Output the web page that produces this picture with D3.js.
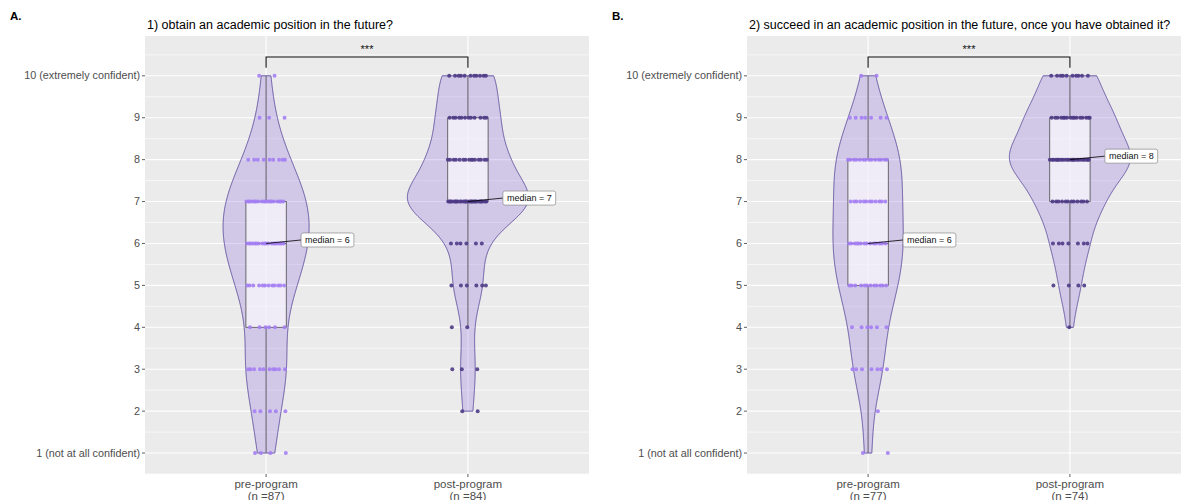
<!DOCTYPE html>
<html>
<head>
<meta charset="utf-8">
<script src="https://cdn.jsdelivr.net/npm/d3@7"></script>
<style>
body{margin:0;background:#fff;}
svg{display:block;font-family:"Liberation Sans",Arial,sans-serif;}
</style>
</head>
<body>
<svg></svg>
<script>
// confidence scores 1..10, counts of answers for each score
var scoreValues = [1,2,3,4,5,6,7,8,9,10];
var groupNames = ['pre-program','post-program'];
var yTickLabels = ['1 (not at all confident)','2','3','4','5','6','7','8','9','10 (extremely confident)'];
var countsApre  = [4,5,10,6,12,18,18,9,3,2];
var countsApost = [0,2,3,2,6,6,27,15,12,11];
var countsBpre  = [2,1,7,6,12,14,12,14,7,2];
var countsBpost = [0,0,0,1,4,7,12,24,16,10];
var sampleA = [87,84];
var sampleB = [77,74];
var panelLetters = ['A.','B.'];
var panelTitles = ['1) obtain an academic position in the future?',
    '2) succeed in an academic position in the future, once you have obtained it?'];
var signifLabels = ['***','***'];

var width = 1181, height = 500;
var svg = d3.select('svg').attr('width',width).attr('height',height);

var panels = [
    {letter:panelLetters[0], title:panelTitles[0], counts:[countsApre,countsApost], n:sampleA, sig:signifLabels[0], left:145, letterX:10},
    {letter:panelLetters[1], title:panelTitles[1], counts:[countsBpre,countsBpost], n:sampleB, sig:signifLabels[1], left:747, letterX:612}
];

var panelW = 444, panelTop = 36, panelBottom = 474;
var pointCols = ['#a47ef3','#4e3a86'];

function expand(counts){
    var out = [];
    counts.forEach(function(c,i){ for(var k=0;k<c;k++) out.push(scoreValues[i]); });
    return out;
}
function bwNrd0(x){
    var sd = d3.deviation(x);
    var iqr = d3.quantile(x,0.75) - d3.quantile(x,0.25);
    var lo = Math.min(sd, iqr/1.34);
    if(!(lo>0)) lo = sd || 1;
    return 0.9*lo*Math.pow(x.length,-0.2);
}
function kde(x, bw, lo, hi){
    var pts = [], n = x.length;
    for(var j=0;j<512;j++){
        var y = lo + (hi-lo)*j/511, s = 0;
        for(var i=0;i<n;i++){
            var u = (y-x[i])/bw;
            s += Math.exp(-0.5*u*u);
        }
        pts.push({y:y, d:s/(n*bw*Math.sqrt(2*Math.PI))});
    }
    return pts;
}

panels.forEach(function(p){
    // discrete scale: categories sit at 0.6 and 1.6 of 2.2 units
    var step = panelW/2.2;
    var cx = function(g){ return p.left + step*(0.6 + groupNames.indexOf(g)); };
    var y = d3.scaleLinear().domain([0.5,10.95]).range([panelBottom,panelTop]);

    var g = svg.append('g');
    g.append('defs').append('clipPath').attr('id','clip'+p.letter[0])
        .append('rect').attr('x',p.left).attr('y',panelTop).attr('width',panelW).attr('height',panelBottom-panelTop);

    g.append('text').text(p.letter).attr('x',p.letterX).attr('y',20)
        .style('font-size','11.5px').style('font-weight','bold').attr('fill','#000');
    g.append('text').text(p.title).attr('x',p.left+2).attr('y',29)
        .style('font-size','12.5px').attr('fill','#000');

    var plot = g.append('g').attr('clip-path','url(#clip'+p.letter[0]+')');
    plot.append('rect').attr('x',p.left).attr('y',panelTop).attr('width',panelW).attr('height',panelBottom-panelTop).attr('fill','#ebebeb');

    var minor = d3.range(0.5,11,1);
    plot.selectAll('.minor').data(minor).enter().append('line')
        .attr('x1',p.left).attr('x2',p.left+panelW)
        .attr('y1',function(d){return y(d);}).attr('y2',function(d){return y(d);})
        .attr('stroke','#fff').attr('stroke-width',0.6);
    plot.selectAll('.major').data(scoreValues).enter().append('line')
        .attr('x1',p.left).attr('x2',p.left+panelW)
        .attr('y1',function(d){return y(d);}).attr('y2',function(d){return y(d);})
        .attr('stroke','#fff').attr('stroke-width',1.1);
    plot.selectAll('.vmajor').data(groupNames).enter().append('line')
        .attr('x1',cx).attr('x2',cx).attr('y1',panelTop).attr('y2',panelBottom)
        .attr('stroke','#fff').attr('stroke-width',1.1);

    // stats per group
    var stats = p.counts.map(function(c,gi){
        var data = expand(c).sort(d3.ascending);
        var q1 = d3.quantile(data,0.25), med = d3.quantile(data,0.5), q3 = d3.quantile(data,0.75);
        var iqr = q3-q1;
        var lw = d3.min(data.filter(function(v){return v>=q1-1.5*iqr;}));
        var uw = d3.max(data.filter(function(v){return v<=q3+1.5*iqr;}));
        var dens = kde(data, bwNrd0(data), data[0], data[data.length-1]);
        return {name:groupNames[gi], data:data, q1:q1, med:med, q3:q3, lw:lw, uw:uw, dens:dens,
            maxD:d3.max(dens,function(d){return d.d;})};
    });
    var maxD = d3.max(stats,function(s){return s.maxD;});
    var vHalf = step*0.3;

    stats.forEach(function(s,gi){
        var c = cx(s.name);
        var w = d3.scaleLinear().domain([0,maxD]).range([0,vHalf]);
        var area = d3.area()
            .y(function(d){return y(d.y);})
            .x0(function(d){return c - w(d.d);})
            .x1(function(d){return c + w(d.d);});
        plot.append('path').datum(s.dens).attr('d',area)
            .attr('fill','rgba(140,108,222,0.27)').attr('stroke','#5a4a9a').attr('stroke-width',0.9);

        var bh = step*0.1;
        plot.append('line').attr('x1',c).attr('x2',c).attr('y1',y(s.q3)).attr('y2',y(s.uw))
            .attr('stroke','#6e6a78').attr('stroke-width',1.2);
        plot.append('line').attr('x1',c).attr('x2',c).attr('y1',y(s.q1)).attr('y2',y(s.lw))
            .attr('stroke','#6e6a78').attr('stroke-width',1.2);
        plot.append('rect').attr('x',c-bh).attr('width',bh*2)
            .attr('y',y(s.q3)).attr('height',y(s.q1)-y(s.q3))
            .attr('fill','rgba(255,255,255,0.66)').attr('stroke','#4a4a4a').attr('stroke-width',0.8);
        plot.append('line').attr('x1',c-bh).attr('x2',c+bh).attr('y1',y(s.med)).attr('y2',y(s.med))
            .attr('stroke','#333').attr('stroke-width',1);

        // jittered points, deterministic spread
        var jw = step*0.1;
        s.data.forEach(function(v,k){
            var idx = k - s.data.indexOf(v);
            var f = ((idx*0.618034 + v*0.371) % 1) - 0.5;
            plot.append('circle').attr('cx', c + f*2*jw).attr('cy', y(v)).attr('r',2)
                .attr('fill',pointCols[gi]).attr('fill-opacity',0.9);
        });
    });

    // median labels
    stats.forEach(function(s){
        var c = cx(s.name), my = y(s.med);
        var lx = c + 35, ly = my - 3.5;
        var lab = 'median = ' + s.med;
        plot.append('line').attr('x1',c).attr('y1',my).attr('x2',lx).attr('y2',ly)
            .attr('stroke','#000').attr('stroke-width',0.8);
        var rect = plot.append('rect');
        var t = plot.append('text').text(lab).attr('x',lx+4).attr('y',ly+3.2)
            .style('font-size','9px').attr('fill','#111');
        var tw = t.node().getComputedTextLength();
        rect.attr('x',lx).attr('y',ly-7).attr('width',tw+8).attr('height',14)
            .attr('rx',2).attr('fill','#fff').attr('stroke','#777').attr('stroke-width',0.6);
    });

    // significance bracket
    var x1 = cx(groupNames[0]), x2 = cx(groupNames[1]);
    plot.append('path').attr('d','M'+x1+','+y(10.19)+'V'+y(10.45)+'H'+x2+'V'+y(10.19))
        .attr('fill','none').attr('stroke','#111').attr('stroke-width',1.1);
    plot.append('text').text(p.sig).attr('x',(x1+x2)/2).attr('y',y(10.66)+4.5)
        .attr('text-anchor','middle').style('font-size','11px').attr('fill','#111');

    // y axis
    g.selectAll('.yt').data(scoreValues).enter().append('line')
        .attr('x1',p.left-3).attr('x2',p.left)
        .attr('y1',function(d){return y(d);}).attr('y2',function(d){return y(d);})
        .attr('stroke','#333').attr('stroke-width',0.8);
    g.selectAll('.yl').data(scoreValues).enter().append('text')
        .text(function(d,i){return yTickLabels[i];})
        .attr('x',p.left-5).attr('y',function(d){return y(d)+3.6;})
        .attr('text-anchor','end').style('font-size','10.8px').attr('fill','#4d4d4d');

    // x axis
    groupNames.forEach(function(gn,gi){
        var c = cx(gn);
        g.append('line').attr('x1',c).attr('x2',c).attr('y1',panelBottom).attr('y2',panelBottom+3)
            .attr('stroke','#333').attr('stroke-width',0.8);
        g.append('text').text(gn).attr('x',c).attr('y',panelBottom+14)
            .attr('text-anchor','middle').style('font-size','11.5px').attr('fill','#4d4d4d');
        g.append('text').text('(n =' + p.n[gi] + ')').attr('x',c).attr('y',panelBottom+25.5)
            .attr('text-anchor','middle').style('font-size','11.5px').attr('fill','#4d4d4d');
    });
});
</script>
</body>
</html>
